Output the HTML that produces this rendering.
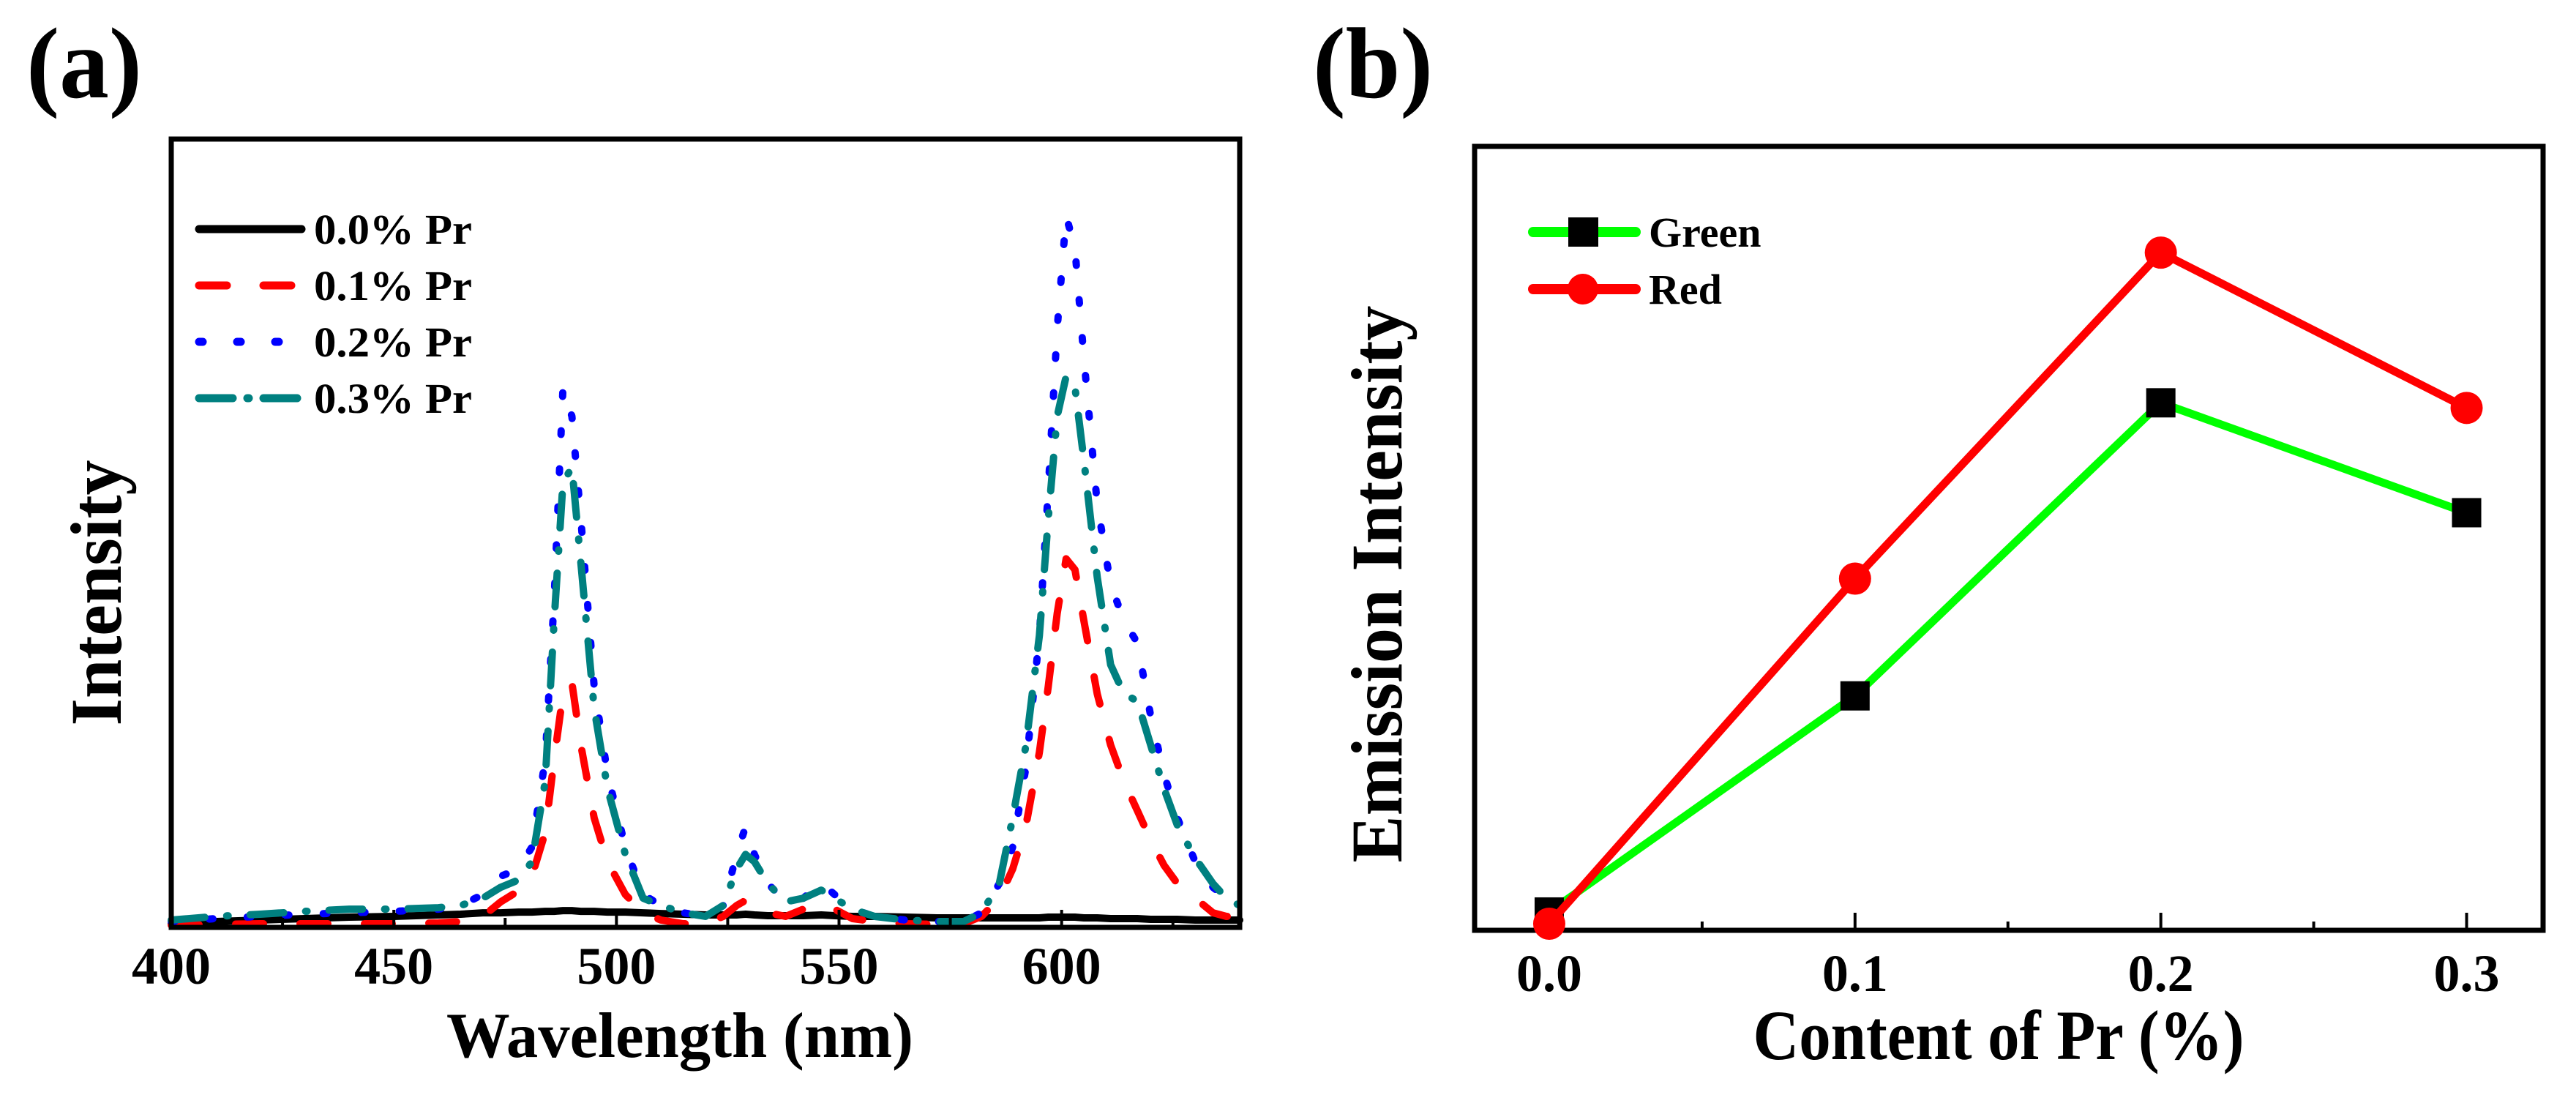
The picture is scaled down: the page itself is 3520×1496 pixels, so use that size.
<!DOCTYPE html>
<html><head><meta charset="utf-8"><style>
html,body{margin:0;padding:0;background:#fff;}
svg{display:block;font-family:"Liberation Serif",serif;font-weight:bold;}
</style></head><body>
<svg id="fig" width="3520" height="1496" viewBox="0 0 3520 1496" xmlns="http://www.w3.org/2000/svg">
<rect width="3520" height="1496" fill="#fff"/>
<g id="pa"></g>
<g id="pb"></g>
</svg>
<script>
// ---- Panel (a) data ----
const wavelengths = [400,410,420,430,440,450,460,465,470,474,478,481,484,486,488,490,492,495,498,502,506,510,515,520,524,527,529,531,534,538,542,546,549,553,558,565,572,578,582,586,589,592,595,597,599,601,603,605,608,611,614,617,620,623,626,630,634,637,640];
const pr00 = [5,8,10,12,14,15,17,18,20,20,21,21,22,22,23,23,22,22,21,21,20,19,18,17,17,17,18,17,16,16,16,17,16,15,15,14,13,13,13,13,13,13,13,14,14,14,14,13,13,12,12,12,11,11,11,10,10,10,10];
const pr01 = [3,4,5,5,5,5,6,8,15,35,50,70,130,230,320,335,250,150,90,45,20,10,5,5,15,30,37,30,20,15,25,32,25,12,8,5,4,5,15,40,80,140,240,330,430,505,490,420,320,250,200,160,120,85,60,40,20,15,15];
const pr02 = [8,12,15,18,20,22,25,30,45,70,80,110,230,450,740,700,560,330,210,110,45,30,20,15,30,100,138,100,60,35,40,61,45,25,15,10,8,8,20,60,110,220,400,600,820,975,930,780,580,470,420,390,290,210,150,90,55,40,30];
const pr03 = [10,15,18,22,25,25,27,30,40,55,65,90,200,420,610,630,500,300,190,100,40,30,20,15,30,80,100,90,60,35,40,51,40,25,15,10,8,8,20,60,150,250,400,560,700,755,740,640,480,360,320,310,250,190,140,95,60,40,30];
const xTicksA = [400,450,500,550,600];
const legendA = ["0.0% Pr","0.1% Pr","0.2% Pr","0.3% Pr"];
// ---- Panel (b) data ----
const contents = [0.0,0.1,0.2,0.3];
const greenVals = [25,320,720,570];
const redVals = [9,480,925,713];
const xTicksB = ["0.0","0.1","0.2","0.3"];
const legendB = ["Green","Red"];

const NS="http://www.w3.org/2000/svg";
function mk(tag, attrs, parent){const e=document.createElementNS(NS,tag);for(const k in attrs)e.setAttribute(k,attrs[k]);parent.appendChild(e);return e;}

// ===== Panel A =====
const pa=document.getElementById('pa');
const A={l:234,r:1694,t:190,b:1267,x0:400,x1:640,y0:0,y1:1080};
const ax=v=>A.l+(v-A.x0)/(A.x1-A.x0)*(A.r-A.l);
const ay=v=>A.b-(v-A.y0)/(A.y1-A.y0)*(A.b-A.t);
const styles=[
 {c:"#000",d:"none"},
 {c:"#ff0000",d:"38 50"},
 {c:"#0000ff",d:"5 47"},
 {c:"#008080",d:"46 30 2 30"}
];
const seriesA=[pr00,pr01,pr02,pr03];
const namesA=['series-0-0-pr','series-0-1-pr','series-0-2-pr','series-0-3-pr'];
seriesA.forEach((s,i)=>{
  const d=s.map((v,j)=>(j?'L':'M')+ax(wavelengths[j]).toFixed(1)+' '+ay(v).toFixed(1)).join(' ');
  const p=mk('path',{d:d,fill:'none',stroke:styles[i].c,'stroke-width':10,'stroke-linecap':'round','stroke-linejoin':'round','stroke-dasharray':styles[i].d},pa);
  
  
});
const frameA=mk('rect',{x:A.l,y:A.t,width:A.r-A.l,height:A.b-A.t,fill:'none',stroke:'#000','stroke-width':7},pa);


for(let w=425;w<640;w+=25){
  const major=(w%50===0);
  const t=mk('line',{x1:ax(w),x2:ax(w),y1:A.b,y2:A.b-(major?24:13),stroke:'#000','stroke-width':4},pa);
  
  
}
xTicksA.forEach(v=>{
  const t=mk('text',{x:ax(v),y:1344,'font-size':72,'text-anchor':'middle'},pa);
  t.textContent=String(v);
  
  
});
let tt=mk('text',{x:929,y:1444,'font-size':88,'text-anchor':'middle',textLength:638,lengthAdjust:'spacingAndGlyphs'},pa);
tt.textContent='Wavelength (nm)';


tt=mk('text',{x:0,y:0,'font-size':100,'text-anchor':'middle',textLength:363,lengthAdjust:'spacingAndGlyphs',transform:'translate(165,810) rotate(-90)'},pa);
tt.textContent='Intensity';


tt=mk('text',{x:36,y:133,'font-size':138,textLength:158,lengthAdjust:'spacingAndGlyphs'},pa);
tt.textContent='(a)';


legendA.forEach((lab,i)=>{
  const y=313+i*77;
  const g=mk('g',{},pa);
  
  
  mk('line',{x1:272,x2:i==0?412:i==1?400:i==2?390:412,y1:y,y2:y,stroke:styles[i].c,'stroke-width':11,'stroke-linecap':'round','stroke-dasharray':i==1?'38 50':i==2?'5 47':i==3?'46 20 2 20':'none'},g);
  const t=mk('text',{x:429,y:y+20,'font-size':58,textLength:216,lengthAdjust:'spacingAndGlyphs'},g);
  t.textContent=lab;
});

// ===== Panel B =====
const pb=document.getElementById('pb');
const B={l:2015,r:3475,t:200,b:1271,x0:-0.0244,x1:0.325,y0:0,y1:1070};
const bx=v=>B.l+(v-B.x0)/(B.x1-B.x0)*(B.r-B.l);
const by=v=>B.b-(v-B.y0)/(B.y1-B.y0)*(B.b-B.t);
const frameB=mk('rect',{x:B.l,y:B.t,width:B.r-B.l,height:B.b-B.t,fill:'none',stroke:'#000','stroke-width':7},pb);


for(let k=1;k<=6;k++){
  const v=k*0.05, major=(k%2===0);
  const t=mk('line',{x1:bx(v),x2:bx(v),y1:B.b,y2:B.b-(major?24:12),stroke:'#000','stroke-width':4},pb);
  
  
}
function drawSeries(vals,color,marker,name){
  const g=mk('g',{},pb);
  
  
  const d=vals.map((v,j)=>(j?'L':'M')+bx(contents[j]).toFixed(1)+' '+by(v).toFixed(1)).join(' ');
  mk('path',{d:d,fill:'none',stroke:color,'stroke-width':11,'stroke-linejoin':'round'},g);
  vals.forEach((v,j)=>{
    let m;
    if(marker==='sq') m=mk('rect',{x:bx(contents[j])-20,y:by(v)-20,width:40,height:40,fill:'#000'},g);
    else m=mk('circle',{cx:bx(contents[j]),cy:by(v),r:22,fill:'#ff0000'},g);
    
    
  });
}
drawSeries(greenVals,'#00ff00','sq','green-series');
drawSeries(redVals,'#ff0000','ci','red-series');
xTicksB.forEach((lab,i)=>{
  const t=mk('text',{x:bx(contents[i]),y:1354,'font-size':72,'text-anchor':'middle'},pb);
  t.textContent=lab;
  
  
});
tt=mk('text',{x:2731,y:1447,'font-size':96,'text-anchor':'middle',textLength:671,lengthAdjust:'spacingAndGlyphs'},pb);
tt.textContent='Content of Pr (%)';


tt=mk('text',{x:0,y:0,'font-size':100,'text-anchor':'middle',textLength:761,lengthAdjust:'spacingAndGlyphs',transform:'translate(1915,798) rotate(-90)'},pb);
tt.textContent='Emission Intensity';


tt=mk('text',{x:1794,y:133,'font-size':138,textLength:164,lengthAdjust:'spacingAndGlyphs'},pb);
tt.textContent='(b)';


legendB.forEach((lab,i)=>{
  const y=317+i*78;
  const g=mk('g',{},pb);
  
  
  const c=i==0?'#00ff00':'#ff0000';
  mk('line',{x1:2095,x2:2235,y1:y,y2:y,stroke:c,'stroke-width':14,'stroke-linecap':'round'},g);
  if(i==0) mk('rect',{x:2143,y:y-20,width:41,height:40,fill:'#000'},g);
  else mk('circle',{cx:2163,cy:y,r:21,fill:'#ff0000'},g);
  const t=mk('text',{x:2253,y:y+20,'font-size':58},g);
  t.textContent=lab;
});
</script>
</body></html>
